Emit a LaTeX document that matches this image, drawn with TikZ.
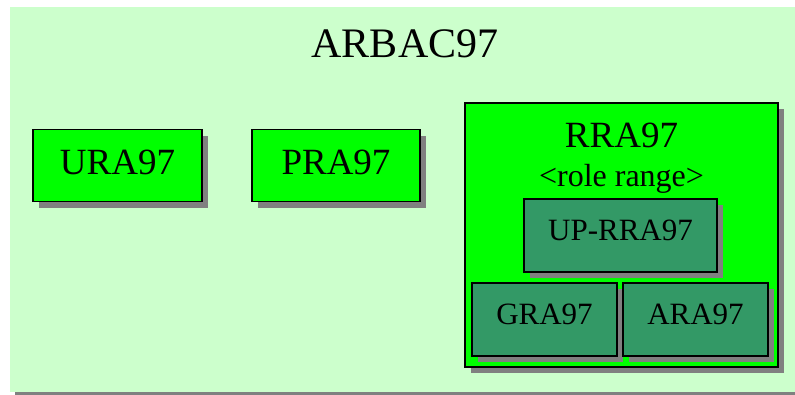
\documentclass[tikz,border=0pt]{standalone}
\usepackage{fontspec}
\setmainfont{Liberation Serif}
\usetikzlibrary{positioning,shadows}
\definecolor{palegreen}{HTML}{CCFFCC}
\definecolor{brightgreen}{HTML}{00FF00}
\definecolor{seagreen}{HTML}{339966}
\definecolor{shadowgray}{HTML}{808080}
\tikzset{
  modbox/.style={draw,line width=1.2pt,fill=brightgreen,minimum width=169pt,minimum height=72pt,
    text depth=7pt,font=\fontsize{37}{37}\selectfont,
    drop shadow={shadow xshift=6pt,shadow yshift=-6pt,fill=shadowgray,opacity=1}},
  subbox/.style={modbox,fill=seagreen,minimum width=145pt,minimum height=73pt,
    text depth=11pt,font=\fontsize{31}{31}\selectfont}
}

\begin{document}
\begin{tikzpicture}[x=1pt,y=-1pt]
\clip (0,0) rectangle (795,394);
\fill[shadowgray] (15,12) rectangle (800,400);
\fill[palegreen] (10,7) rectangle (795,392);
\node[anchor=base,font=\fontsize{42}{42}\selectfont] (title) at (405,57) {ARBAC97};
\node[modbox] (ura) at (117.5,165.5) {URA97};
\node[modbox,minimum width=168pt] (pra) at (336,165.5) {PRA97};
\node[modbox,minimum width=313pt,minimum height=264pt] (rra) at (621.5,235) {};
\node[anchor=base,font=\fontsize{37}{37}\selectfont] (rratitle) at (621.5,147) {RRA97};
\node[anchor=base,font=\fontsize{32}{32}\selectfont] (range) at (621.5,186) {<role range>};
\node[subbox,minimum width=193pt] (uprra) at (620.5,235.5) {UP-RRA97};
\node[subbox] (gra) at (544.5,319.5) {GRA97};
\node[subbox] (ara) at (695.5,319.5) {ARA97};
\end{tikzpicture}
\end{document}
